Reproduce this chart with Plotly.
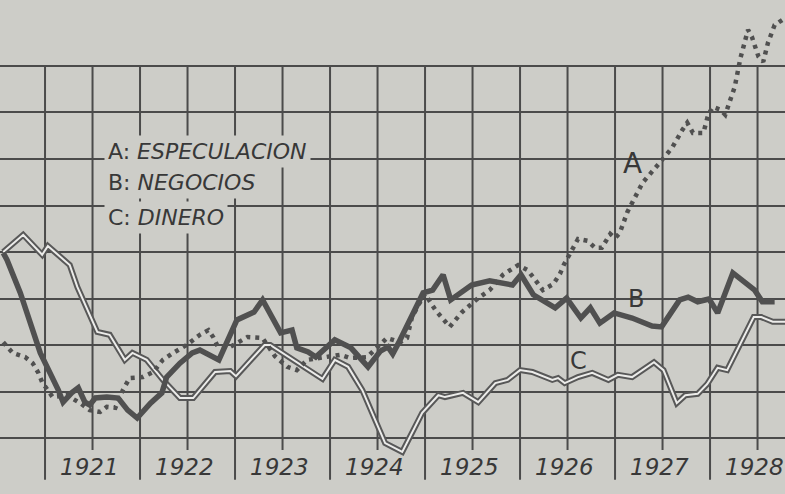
import plotly.graph_objects as go

# ---------------- data (years as decimals, index values) ----------------
years_A = [1920.56, 1920.66, 1920.79, 1920.87, 1920.93, 1920.97, 1921.08, 1921.23, 1921.37, 1921.47,
           1921.58, 1921.65, 1921.74, 1921.82, 1921.89, 1922.03, 1922.14, 1922.24, 1922.35, 1922.49,
           1922.63, 1922.72, 1922.77, 1922.82, 1922.95, 1923.13, 1923.29, 1923.42, 1923.55, 1923.65,
           1923.76, 1923.89, 1924.11, 1924.21, 1924.39, 1924.60, 1924.74, 1924.81, 1924.86, 1924.93,
           1925.00, 1925.11, 1925.26, 1925.39, 1925.56, 1925.68, 1925.82, 1925.98, 1926.08, 1926.16,
           1926.24, 1926.35, 1926.42, 1926.46, 1926.56, 1926.61, 1926.71, 1926.79, 1926.86, 1926.95,
           1927.00, 1927.05, 1927.13, 1927.29, 1927.45, 1927.60, 1927.71, 1927.76, 1927.82, 1927.93,
           1927.98, 1928.03, 1928.11, 1928.16, 1928.26, 1928.32, 1928.40, 1928.44, 1928.51, 1928.56,
           1928.61, 1928.68, 1928.76]
especulacion = [80.6, 78.3, 77.4, 76.1, 74.0, 72.0, 68.8, 69.2, 67.5, 66.0,
                65.6, 66.7, 66.5, 70.3, 72.9, 73.1, 74.2, 76.8, 78.3, 80.0,
                82.2, 83.2, 81.7, 79.6, 79.6, 81.7, 81.5, 77.6, 75.3, 74.6,
                76.8, 77.2, 77.9, 77.2, 77.4, 81.5, 80.6, 81.5, 85.8, 88.6,
                91.0, 87.5, 83.9, 87.1, 90.1, 91.8, 95.1, 97.2, 96.1, 94.0,
                91.8, 93.1, 95.3, 97.2, 101.1, 102.8, 102.4, 100.9, 100.9, 103.9,
                103.0, 104.1, 108.6, 114.9, 118.7, 122.4, 126.3, 127.8, 125.6, 125.6,
                129.5, 131.2, 130.6, 129.5, 135.5, 141.7, 147.8, 146.3, 142.0, 140.9,
                145.0, 148.8, 149.9]

years_B = [1920.56, 1920.60, 1920.74, 1920.95, 1921.14, 1921.19, 1921.28, 1921.35, 1921.42, 1921.47,
           1921.53, 1921.65, 1921.77, 1921.87, 1921.97, 1922.11, 1922.23, 1922.28, 1922.42, 1922.55,
           1922.63, 1922.74, 1922.83, 1923.02, 1923.20, 1923.29, 1923.43, 1923.48, 1923.60, 1923.65,
           1923.77, 1923.85, 1924.05, 1924.22, 1924.40, 1924.53, 1924.61, 1924.66, 1924.72, 1924.98,
           1925.08, 1925.19, 1925.27, 1925.49, 1925.68, 1925.92, 1926.01, 1926.14, 1926.37, 1926.49,
           1926.64, 1926.74, 1926.84, 1926.99, 1927.18, 1927.39, 1927.49, 1927.68, 1927.77, 1927.87,
           1927.99, 1928.08, 1928.24, 1928.39, 1928.47, 1928.55, 1928.68]
negocios = [99.8, 98.3, 91.2, 78.3, 70.3, 67.7, 69.7, 70.8, 67.7, 67.1,
            68.6, 68.8, 68.6, 66.0, 64.3, 67.5, 69.7, 73.1, 76.1, 78.3,
            78.9, 77.9, 76.8, 85.4, 87.1, 89.7, 84.5, 82.6, 83.2, 79.4,
            78.5, 77.4, 81.1, 79.4, 75.3, 78.7, 79.6, 78.1, 80.4, 91.2,
            91.8, 95.1, 89.7, 92.9, 93.8, 92.9, 95.1, 90.8, 88.0, 90.1,
            85.8, 88.0, 84.7, 86.9, 85.8, 84.1, 83.9, 89.7, 90.3, 89.3,
            89.9, 86.9, 95.5, 92.9, 91.8, 89.3, 89.3]

years_C = [1920.56, 1920.77, 1920.97, 1921.03, 1921.26, 1921.34, 1921.55, 1921.68, 1921.84, 1921.92,
           1922.07, 1922.24, 1922.42, 1922.56, 1922.79, 1922.95, 1923.01, 1923.31, 1923.37, 1923.50,
           1923.77, 1923.92, 1924.05, 1924.19, 1924.34, 1924.47, 1924.58, 1924.76, 1924.97, 1925.14,
           1925.21, 1925.40, 1925.56, 1925.74, 1925.87, 1926.00, 1926.13, 1926.34, 1926.40, 1926.47,
           1926.61, 1926.76, 1926.93, 1927.03, 1927.18, 1927.41, 1927.51, 1927.65, 1927.74, 1927.87,
           1927.97, 1928.08, 1928.18, 1928.46, 1928.54, 1928.66, 1928.79]
dinero = [100.0, 103.7, 99.4, 101.3, 97.2, 92.5, 82.8, 82.2, 76.8, 78.3,
          76.8, 72.5, 68.6, 68.6, 74.2, 74.4, 73.3, 80.0, 80.0, 78.3,
          74.6, 72.7, 76.8, 75.3, 70.3, 63.9, 58.9, 57.0, 65.4, 69.2,
          68.8, 69.7, 67.7, 71.8, 72.5, 74.6, 74.2, 72.5, 72.9, 71.8,
          73.1, 74.0, 72.5, 73.6, 73.1, 76.3, 74.6, 67.5, 69.2, 69.5,
          71.6, 75.1, 74.6, 86.0, 86.0, 85.0, 85.0]

year_labels = ["1921", "1922", "1923", "1924", "1925", "1926", "1927", "1928"]
year_starts = [1921, 1922, 1923, 1924, 1925, 1926, 1927, 1928]
grid_values = [60, 70, 80, 90, 100, 110, 120, 130, 140]
legend_lines = ["A: <i>ESPECULACION</i>", "B: <i>NEGOCIOS</i>", "C: <i>DINERO</i>"]

# ---------------- style ----------------
BG = "#cdcdc8"
INK = "#4b4b4b"
TXT = "#383838"
FONT = "DejaVu Sans"

fig = go.Figure()

# C: double line (dark outline + light core)
fig.add_trace(go.Scatter(x=years_C, y=dinero, mode="lines",
                         line=dict(color="#585858", width=6), hoverinfo="skip"))
fig.add_trace(go.Scatter(x=years_C, y=dinero, mode="lines",
                         line=dict(color="#ececea", width=2), hoverinfo="skip"))
# B: thick solid line
fig.add_trace(go.Scatter(x=years_B, y=negocios, mode="lines",
                         line=dict(color="#505050", width=5.5), hoverinfo="skip"))
# A: dotted line
fig.add_trace(go.Scatter(x=years_A, y=especulacion, mode="lines",
                         line=dict(color="#505050", width=4.5, dash="4px,5px"), hoverinfo="skip"))

# vertical grid lines: year lines run down through the label zone, half-year lines stop above labels
top_v = grid_values[-1]
shapes = []
for y0 in year_starts:
    shapes.append(dict(type="line", xref="x", yref="y", x0=y0, x1=y0, y0=51.0, y1=top_v,
                       line=dict(color=INK, width=2), layer="below"))
    shapes.append(dict(type="line", xref="x", yref="y", x0=y0 + 0.5, x1=y0 + 0.5, y0=57.4, y1=top_v,
                       line=dict(color=INK, width=2), layer="below"))

annotations = []
for lab, y0 in zip(year_labels, year_starts):
    annotations.append(dict(x=y0 + 0.5, y=53.8, xref="x", yref="y", text=f"<i>{lab}</i>",
                            showarrow=False, xshift=-3,
                            font=dict(family=FONT, size=23, color=TXT)))

legend_y = [0.694, 0.6296, 0.5607]
for txt, yy in zip(legend_lines, legend_y):
    annotations.append(dict(x=0.132, y=yy, xref="paper", yref="paper", text=txt,
                            xanchor="left", yanchor="middle", showarrow=False,
                            bgcolor=BG, borderpad=3,
                            font=dict(family=FONT, size=22, color=TXT)))

# series letters
annotations.append(dict(x=1927.18, y=119.1, xref="x", yref="y", text="A", showarrow=False,
                        font=dict(family=FONT, size=28, color=TXT)))
annotations.append(dict(x=1927.22, y=89.9, xref="x", yref="y", text="B", showarrow=False,
                        font=dict(family=FONT, size=24, color=TXT)))
annotations.append(dict(x=1926.62, y=76.6, xref="x", yref="y", text="C", showarrow=False,
                        font=dict(family=FONT, size=24, color=TXT)))

fig.update_layout(
    width=785, height=494,
    margin=dict(l=0, r=0, t=0, b=0),
    paper_bgcolor=BG, plot_bgcolor=BG,
    showlegend=False,
    shapes=shapes,
    annotations=annotations,
    xaxis=dict(range=[1920.526, 1928.789], showgrid=False, zeroline=False,
               showticklabels=False, ticks="", showline=False),
    yaxis=dict(range=[47.96, 154.19], tickvals=grid_values, showgrid=True,
               gridcolor=INK, gridwidth=2, zeroline=False, showticklabels=False,
               ticks="", showline=False),
)

fig.write_html("out.html", config={"displayModeBar": False},
               post_script="document.body.style.margin='0';document.body.style.overflow='hidden';")
